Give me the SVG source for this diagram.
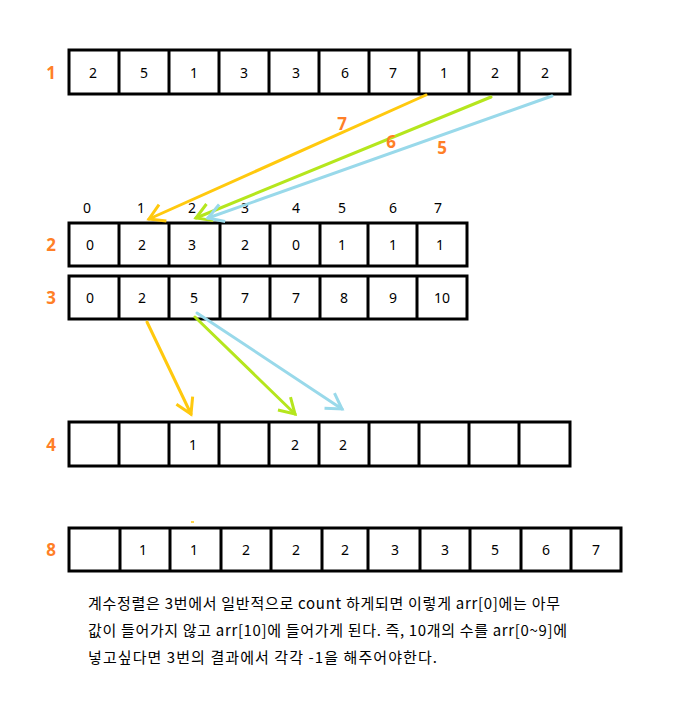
<svg xmlns="http://www.w3.org/2000/svg" width="680" height="716" viewBox="0 0 680 716">
<style>
.box{fill:#fff;stroke:#000;stroke-width:3}
.div{stroke:#000;stroke-width:3}
.num{font-family:"Noto Sans","Open Sans",sans-serif;font-size:14px;fill:#000;text-anchor:middle}
.lbl{font-family:"Noto Sans","Open Sans",sans-serif;font-size:17px;font-weight:bold;fill:#FF7F27;text-anchor:middle}
.note{font-family:"Noto Sans CJK KR","Noto Sans",sans-serif;font-size:15px;fill:#000}
.a{fill:none;stroke-width:3;stroke-linecap:round}
</style>
<defs>
<marker id="mo" markerUnits="userSpaceOnUse" viewBox="-18 -12 22 24" refX="0" refY="0" markerWidth="22" markerHeight="24" orient="auto"><path d="M-15,-9 L0,0 L-15,9" fill="none" stroke="#FFC90E" stroke-width="3"/></marker>
<marker id="mg" markerUnits="userSpaceOnUse" viewBox="-18 -12 22 24" refX="0" refY="0" markerWidth="22" markerHeight="24" orient="auto"><path d="M-15,-9 L0,0 L-15,9" fill="none" stroke="#B5E61D" stroke-width="3"/></marker>
<marker id="mb" markerUnits="userSpaceOnUse" viewBox="-18 -12 22 24" refX="0" refY="0" markerWidth="22" markerHeight="24" orient="auto"><path d="M-15,-9 L0,0 L-15,9" fill="none" stroke="#99D9EA" stroke-width="3"/></marker>
</defs>
<rect width="680" height="716" fill="#fff"/>

<g id="row1">
<rect class="box" x="69" y="50" width="501" height="44"/>
<path class="div" d="M119,50V94M169,50V94M219,50V94M269,50V94M319,50V94M369,50V94M419,50V94M469,50V94M519,50V94"/>
<text class="lbl" x="51" y="79">1</text>
<g class="num"><text x="93" y="78">2</text><text x="144" y="78">5</text><text x="194" y="78">1</text><text x="244" y="78">3</text><text x="296" y="78">3</text><text x="345" y="78">6</text><text x="393" y="78">7</text><text x="444" y="78">1</text><text x="495" y="78">2</text><text x="545" y="78">2</text></g>
</g>

<g id="index">
<g class="num"><text x="87" y="213">0</text><text x="141" y="213">1</text><text x="192" y="213">2</text><text x="245" y="213">3</text><text x="296" y="213">4</text><text x="342" y="213">5</text><text x="393" y="213">6</text><text x="438" y="213">7</text></g>
</g>

<g id="row2">
<rect class="box" x="69" y="223" width="398" height="43"/>
<path class="div" d="M119,223V266M169,223V266M220,223V266M270,223V266M320,223V266M368,223V266M417,223V266"/>
<text class="lbl" x="51" y="251">2</text>
<g class="num"><text x="90" y="250">0</text><text x="142" y="250">2</text><text x="192" y="250">3</text><text x="245" y="250">2</text><text x="296" y="250">0</text><text x="342" y="250">1</text><text x="393" y="250">1</text><text x="440" y="250">1</text></g>
</g>

<g id="row3">
<rect class="box" x="69" y="276" width="398" height="43"/>
<path class="div" d="M119,276V319M169,276V319M220,276V319M270,276V319M320,276V319M368,276V319M417,276V319"/>
<text class="lbl" x="51" y="304">3</text>
<g class="num"><text x="90" y="303">0</text><text x="142" y="303">2</text><text x="194" y="303">5</text><text x="245" y="303">7</text><text x="296" y="303">7</text><text x="344" y="303">8</text><text x="393" y="303">9</text><text x="442" y="303">10</text></g>
</g>

<g id="row4">
<rect class="box" x="69" y="422" width="501" height="44"/>
<path class="div" d="M119,422V466M169,422V466M219,422V466M269,422V466M319,422V466M369,422V466M419,422V466M469,422V466M519,422V466"/>
<text class="lbl" x="51" y="451">4</text>
<g class="num"><text x="193" y="450">1</text><text x="295" y="450">2</text><text x="343" y="450">2</text></g>
</g>

<g id="row8">
<rect class="box" x="69" y="528" width="552" height="43"/>
<path class="div" d="M120,528V571M170,528V571M221,528V571M271,528V571M322,528V571M368,528V571M420,528V571M470,528V571M521,528V571M571,528V571"/>
<text class="lbl" x="51" y="556">8</text>
<g class="num"><text x="143" y="555">1</text><text x="194" y="555">1</text><text x="246" y="555">2</text><text x="296" y="555">2</text><text x="345" y="555">2</text><text x="395" y="555">3</text><text x="445" y="555">3</text><text x="495" y="555">5</text><text x="546" y="555">6</text><text x="596" y="555">7</text></g>
<path d="M191,522H194" stroke="#FFC90E" stroke-width="1.5"/>
</g>

<g id="connectors">
<line class="a" x1="426" y1="95" x2="149" y2="219" stroke="#FFC90E" marker-end="url(#mo)"/>
<line class="a" x1="491" y1="97" x2="196" y2="218" stroke="#B5E61D" marker-end="url(#mg)"/>
<line class="a" x1="552" y1="96" x2="208" y2="218" stroke="#99D9EA" marker-end="url(#mb)"/>
<line class="a" x1="147" y1="322" x2="191" y2="414" stroke="#FFC90E" marker-end="url(#mo)"/>
<line class="a" x1="195" y1="317" x2="295" y2="414" stroke="#B5E61D" marker-end="url(#mg)"/>
<line class="a" x1="197" y1="313" x2="342" y2="409" stroke="#99D9EA" marker-end="url(#mb)"/>
<text class="lbl" x="342" y="130">7</text>
<text class="lbl" x="391" y="148">6</text>
<text class="lbl" x="442" y="154">5</text>
</g>

<g id="note">
<text class="note" x="88" y="609" textLength="472" lengthAdjust="spacing">계수정렬은 3번에서 일반적으로 count 하게되면 이렇게 arr[0]에는 아무</text>
<text class="note" x="88" y="636" textLength="479" lengthAdjust="spacing">값이 들어가지 않고 arr[10]에 들어가게 된다. 즉, 10개의 수를 arr[0~9]에</text>
<text class="note" x="88" y="663" textLength="349" lengthAdjust="spacing">넣고싶다면 3번의 결과에서 각각 -1을 해주어야한다.</text>
</g>
</svg>
